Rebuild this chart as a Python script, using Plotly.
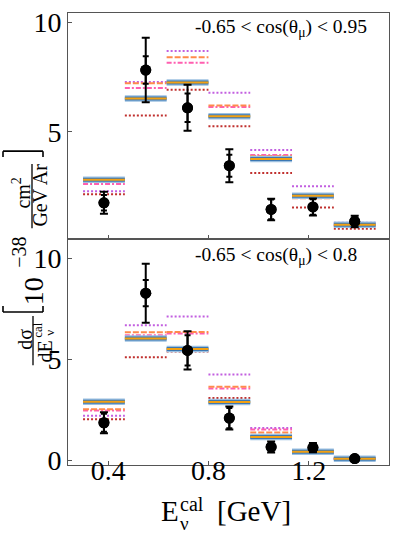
import plotly.graph_objects as go
from plotly.subplots import make_subplots

# ---------------- data ----------------
bin_edges = [0.3, 0.4667, 0.6333, 0.8, 0.9667, 1.1333, 1.3, 1.4667]
bin_centers = [0.3833, 0.55, 0.7167, 0.8833, 1.05, 1.2167, 1.3833]

# panel 1: -0.65 < cos(theta_mu) < 0.95
top_data = [1.77, 7.82, 6.10, 3.46, 1.47, 1.58, 0.92]
top_tot_err = [0.50, 1.47, 1.05, 0.75, 0.49, 0.39, 0.26]
top_stat_err = [0.35, 0.63, 0.65, 0.50, 0.45, 0.35, 0.22]
top_model_blue = [2.82, 6.52, 7.25, 5.72, 3.77, 2.09, 0.77]
top_model_orange_dash = [2.75, 7.22, 8.40, 6.20, 3.90, 1.98, 0.72]
top_model_pink_dashdot = [2.63, 7.00, 8.15, 6.14, 3.95, 2.05, 0.75]
top_model_violet_dot = [2.30, 7.27, 8.69, 6.79, 4.18, 2.52, 0.86]
top_model_red_dot = [2.16, 5.75, 6.92, 5.26, 3.13, 1.56, 0.59]

# panel 2: -0.65 < cos(theta_mu) < 0.8
bot_data = [1.85, 8.26, 5.43, 2.08, 0.65, 0.62, 0.08]
bot_tot_err = [0.52, 1.46, 0.95, 0.57, 0.27, 0.23, 0.05]
bot_stat_err = [0.44, 0.65, 0.75, 0.50, 0.24, 0.20, 0.04]
bot_model_blue = [2.89, 6.02, 5.50, 2.88, 1.14, 0.41, 0.07]
bot_model_orange_dash = [2.52, 6.33, 6.34, 3.63, 1.37, 0.43, 0.08]
bot_model_pink_dashdot = [2.45, 6.18, 6.26, 3.55, 1.51, 0.44, 0.08]
bot_model_violet_dot = [2.20, 6.67, 7.11, 4.24, 1.59, 0.46, 0.09]
bot_model_red_dot = [2.02, 5.09, 5.37, 3.07, 1.17, 0.36, 0.06]

x_tickvals = [0.4, 0.8, 1.2]
x_ticktext = ["0.4", "0.8", "1.2"]
y_tickvals = [0, 5, 10]
panel_labels = ["-0.65 &lt; cos(θ<sub>μ</sub>) &lt; 0.95",
                "-0.65 &lt; cos(θ<sub>μ</sub>) &lt; 0.8"]

FONT = "Liberation Serif, Times New Roman, serif"
W, H = 399, 538
L, R, T, B = 68, 10, 7, 73


def px(xp):
    return (xp - L) / (W - L - R)


def py(yp):
    return (H - B - yp) / (H - T - B)


def segs(vals):
    xs, ys = [], []
    for i, v in enumerate(vals):
        xs += [bin_edges[i], bin_edges[i + 1], None]
        ys += [v, v, None]
    return xs, ys


fig = make_subplots(rows=2, cols=1, shared_xaxes=True, vertical_spacing=0)

panels = [
    (1, top_data, top_tot_err, top_stat_err, top_model_blue, top_model_orange_dash,
     top_model_pink_dashdot, top_model_violet_dot, top_model_red_dot),
    (2, bot_data, bot_tot_err, bot_stat_err, bot_model_blue, bot_model_orange_dash,
     bot_model_pink_dashdot, bot_model_violet_dot, bot_model_red_dot),
]

for row, data, tot, stat, blue, odash, pdd, vdot, rdot in panels:
    styles = [
        (vdot, "#c25fe0", 2, "2px,2px"),
        (rdot, "#c0302e", 2, "2px,2px"),
        (pdd, "#ff5fb0", 2, "5px,2px,2px,2px"),
        (odash, "#ff8a4c", 2, "6px,2px"),
        (blue, "#9cc0e0", 6.5, "solid"),
        (blue, "#3d78b2", 4, "solid"),
        (blue, "#f2a012", 2, "solid"),
    ]
    for vals, col, wid, dash in styles:
        xs, ys = segs(vals)
        fig.add_trace(go.Scatter(x=xs, y=ys, mode="lines",
                                 line=dict(color=col, width=wid, dash=dash),
                                 showlegend=False, hoverinfo="skip"),
                      row=row, col=1)
    fig.add_trace(go.Scatter(x=bin_centers, y=data, mode="markers",
                             marker=dict(color="black", size=11),
                             error_y=dict(type="data", array=tot, color="black",
                                          thickness=2, width=4),
                             showlegend=False), row=row, col=1)
    fig.add_trace(go.Scatter(x=bin_centers, y=data, mode="markers",
                             marker=dict(color="black", size=11),
                             error_y=dict(type="data", array=stat, color="black",
                                          thickness=2, width=3),
                             showlegend=False), row=row, col=1)

axis_common = dict(showline=True, mirror=True, linecolor="#555", linewidth=1,
                   ticks="inside", ticklen=4, tickcolor="#555", showgrid=False,
                   zeroline=False, tickfont=dict(family=FONT, size=28, color="black"))

fig.update_xaxes(range=[0.24, 1.52], tickvals=x_tickvals, ticktext=x_ticktext,
                 ticklabelstandoff=-20, **axis_common)
fig.update_xaxes(showticklabels=False, row=1, col=1)
fig.update_yaxes(tickvals=y_tickvals, **axis_common)
fig.update_yaxes(range=[0.12, 10.42], row=1, col=1)
fig.update_yaxes(range=[-0.24, 10.94], row=2, col=1)

ann = []
# panel labels
ann.append(dict(x=px(193), y=py(22), text=panel_labels[0], xanchor="left", yanchor="middle"))
ann.append(dict(x=px(193), y=py(253), text=panel_labels[1], xanchor="left", yanchor="middle"))
for a in ann:
    a.update(xref="paper", yref="paper", showarrow=False,
             font=dict(family=FONT, size=19.5, color="black"))


def text_ann(xp, yp, text, size, angle=0):
    return dict(x=px(xp), y=py(yp), xref="paper", yref="paper", text=text,
                showarrow=False, xanchor="center", yanchor="middle", textangle=angle,
                font=dict(family=FONT, size=size, color="black"))


# x-axis title: E_nu^cal [GeV]
ann += [
    text_ann(170, 512, "E", 29),
    text_ann(192, 505, "cal", 20),
    text_ann(184, 524, "ν", 19),
    text_ann(254, 512, "[GeV]", 29),
]
# y-axis title: dσ/dE_nu^cal [10^-38 cm^2/(GeV Ar)]
ann += [
    text_ann(25, 338, "dσ", 20, -90),
    text_ann(45, 350, "dE", 20, -90),
    text_ann(38, 328, "cal", 13, -90),
    text_ann(50, 331, "ν", 13, -90),
    text_ann(33, 289, "10", 28, -90),
    text_ann(19, 250, "−38", 20, -90),
    text_ann(21, 190, "cm<sup>2</sup>", 20, -90),
    text_ann(40, 192, "GeV Ar", 20, -90),
]
fig.update_layout(annotations=ann)

shapes = []


def pline(x0, y0, x1, y1, w=1.3):
    shapes.append(dict(type="line", xref="paper", yref="paper",
                       x0=px(x0), y0=py(y0), x1=px(x1), y1=py(y1),
                       line=dict(color="black", width=w)))


# fraction bars
pline(33, 314, 33, 364)
pline(32, 160, 32, 225)
# brackets
pline(3, 147, 43, 147, 1.6)
pline(3, 147, 3, 153, 1.6)
pline(43, 147, 43, 153, 1.6)
pline(3, 310, 43, 310, 1.6)
pline(3, 310, 3, 304, 1.6)
pline(43, 310, 43, 304, 1.6)
fig.update_layout(shapes=shapes)

fig.update_layout(width=W, height=H, margin=dict(l=L, r=R, t=T, b=B),
                  plot_bgcolor="white", paper_bgcolor="white",
                  font=dict(family=FONT, color="black"))

fig.write_html("out.html", config={"displayModeBar": False},
               post_script="document.body.style.margin='0';document.body.style.overflow='hidden';")
